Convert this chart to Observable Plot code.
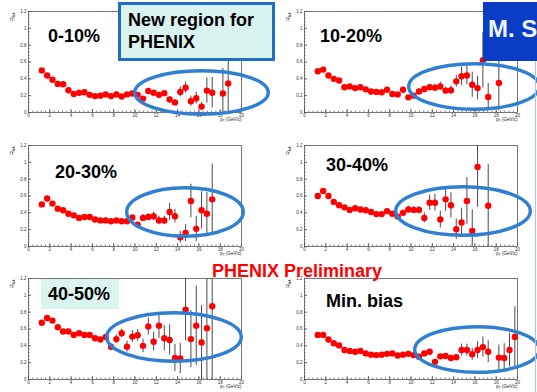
<!DOCTYPE html>
<html><head><meta charset="utf-8">
<script src="https://cdn.jsdelivr.net/npm/d3@7"></script>
<script src="https://cdn.jsdelivr.net/npm/@observablehq/plot@0.6"></script>
<style>
html,body{margin:0;padding:0;background:#fff;}
#slide{position:relative;width:537px;height:392px;overflow:hidden;background:#fff;font-family:"Liberation Sans",Arial,sans-serif;}
#slide svg{position:absolute;}
</style></head><body><div id="slide"></div>
<script>
// ---- data ----
const ptBins = [1.25,1.75,2.25,2.75,3.25,3.75,4.25,4.75,5.25,5.75,6.25,6.75,7.25,7.75,8.25,8.75,9.25,9.75,10.25,10.75,11.25,11.75,12.25,12.75,13.25,13.75,14.25,14.75,15.25,15.75,16.25,16.75,17.25,17.75,18.25,18.75,19.25,19.75];
const xTicks = [0,2,4,6,8,10,12,14,16,18,20];
const xTickLabels = ["0","2","4","6","8","10","12","14","16","18","20"];
const yTicks = [0,0.2,0.4,0.6,0.8,1,1.2];
const yTickLabels = ["0","0.2","0.4","0.6","0.8","1","1.2"];
const centralities = ["0-10%","10-20%","20-30%","30-40%","40-50%","Min. bias"];

const raa_0_10 = [0.50,0.44,0.39,0.34,0.335,0.265,0.22,0.235,0.24,0.21,0.195,0.20,0.215,0.195,0.215,0.19,0.215,0.225,0.21,0.165,0.255,0.235,0.21,0.23,0.155,0.12,0.245,0.295,0.135,0.17,0.07,0.26,0.235,null,0.225,0.345,null,null];
const err_0_10 = [0.01,0.01,0.01,0.01,0.01,0.01,0.01,0.01,0.01,0.01,0.01,0.01,0.01,0.01,0.01,0.012,0.012,0.015,0.015,0.02,0.02,0.02,0.02,0.025,0.03,0.03,0.06,0.065,0.06,0.07,0.05,0.15,0.18,null,0.3,0.9,null,null];

const raa_10_20 = [0.49,0.51,0.44,0.40,0.38,0.30,0.31,0.29,0.30,0.275,0.25,0.245,0.24,0.27,0.22,0.215,0.27,0.18,0.20,0.25,0.28,0.30,0.295,0.31,0.26,0.265,0.37,0.43,0.44,0.33,0.29,0.62,0.185,null,0.35,null,null,null];
const err_10_20 = [0.01,0.01,0.01,0.01,0.01,0.01,0.01,0.01,0.01,0.01,0.01,0.01,0.01,0.012,0.012,0.015,0.015,0.02,0.02,0.02,0.03,0.03,0.04,0.05,0.04,0.05,0.07,0.11,0.11,0.15,0.14,0.33,0.16,null,0.33,null,null,null];

const raa_20_30 = [0.50,0.57,0.51,0.45,0.43,0.39,0.37,0.34,0.35,0.35,0.32,0.31,0.31,0.30,0.31,0.30,0.30,0.345,0.26,0.34,0.35,0.36,0.31,0.31,0.41,0.36,0.11,0.16,0.54,0.21,0.43,0.39,0.56,null,null,null,null,null];
const err_20_30 = [0.01,0.01,0.01,0.01,0.01,0.01,0.01,0.01,0.01,0.01,0.01,0.01,0.01,0.012,0.012,0.015,0.015,0.02,0.03,0.04,0.04,0.05,0.05,0.05,0.1,0.08,0.07,0.1,0.2,0.15,0.22,0.25,0.42,null,null,null,null,null];

const raa_30_40 = [0.60,0.66,0.60,0.53,0.49,0.465,0.435,0.455,0.44,0.43,0.41,0.385,0.385,0.42,0.39,0.355,0.40,0.44,0.435,0.435,0.34,0.52,0.52,0.32,0.56,0.49,0.205,0.285,0.54,0.185,0.945,null,0.485,null,null,null,null,null];
const err_30_40 = [0.012,0.012,0.012,0.012,0.012,0.012,0.012,0.012,0.012,0.012,0.012,0.012,0.015,0.015,0.015,0.02,0.03,0.04,0.04,0.04,0.06,0.09,0.1,0.1,0.14,0.15,0.12,0.17,0.28,0.25,0.48,null,0.49,null,null,null,null,null];

const raa_40_50 = [0.675,0.73,0.70,0.62,0.57,0.57,0.53,0.55,0.53,0.53,0.49,0.475,0.505,0.39,0.48,0.55,0.39,0.51,0.525,0.40,0.63,0.45,0.64,0.49,0.47,0.255,0.25,0.83,0.48,0.64,0.44,0.61,0.87,null,null,null,null,null];
const err_40_50 = [0.015,0.015,0.015,0.015,0.015,0.015,0.015,0.015,0.015,0.015,0.015,0.018,0.02,0.03,0.05,0.05,0.065,0.07,0.07,0.08,0.1,0.11,0.15,0.15,0.18,0.16,0.18,0.37,0.34,0.47,0.44,0.7,0.9,null,null,null,null,null];

const raa_minbias = [0.53,0.53,0.475,0.43,0.405,0.35,0.34,0.33,0.34,0.31,0.295,0.29,0.295,0.305,0.31,0.285,0.295,0.305,0.29,0.27,0.31,0.33,0.21,0.275,0.28,0.255,0.265,0.35,0.35,0.30,0.35,0.385,0.33,null,0.26,0.255,0.35,0.505];
const err_minbias = [0.006,0.006,0.006,0.006,0.006,0.006,0.006,0.006,0.006,0.006,0.006,0.006,0.008,0.008,0.008,0.01,0.01,0.01,0.012,0.015,0.015,0.015,0.02,0.025,0.03,0.03,0.03,0.07,0.07,0.07,0.1,0.12,0.13,null,0.15,0.17,0.2,0.36];

const seriesValues = [raa_0_10, raa_10_20, raa_20_30, raa_30_40, raa_40_50, raa_minbias];
const seriesErrors = [err_0_10, err_10_20, err_20_30, err_30_40, err_40_50, err_minbias];

// ---- layout ----
const frames = [{l:28,t:11},{l:304,t:11},{l:28,t:145},{l:304,t:145},{l:28,t:278},{l:304,t:278}];
const ML=22, MR=6, MT=6, MB=12, PW=213, PH=101;
const xMinor = d3.range(0, 20.001, 0.4);
const yMinor = d3.range(0, 1.2001, 0.04);
const axisColor = "#333";

function panel(vals, errs) {
  const rows = ptBins.map((pt,i)=>({pt, v: vals[i], e: errs[i]}))
    .filter(d => d.v != null)
    .map(d => ({pt: d.pt, v: d.v, lo: Math.max(0, d.v - d.e), hi: Math.min(1.2, d.v + d.e)}));
  return Plot.plot({
    width: ML+PW+MR, height: MT+PH+MB,
    marginLeft: ML, marginRight: MR, marginTop: MT, marginBottom: MB,
    x: {domain:[0,20], label:null},
    y: {domain:[0,1.2], label:null},
    style: {fontFamily:"'Liberation Sans', Arial, sans-serif", background:"transparent", overflow:"visible", color:"#222"},
    marks: [
      Plot.axisX(xMinor, {tickSize:1.5, dy:-1.5, fill:"none", stroke:axisColor, strokeWidth:0.6, label:null}),
      Plot.axisX(xTicks, {tickSize:3, dy:-3, fill:"none", stroke:axisColor, strokeWidth:0.7, label:null}),
      Plot.axisX(xTicks, {tickSize:0, tickPadding:1.5, stroke:"none", fill:"#333", fontSize:4.5, label:null,
        tickFormat: d => xTickLabels[xTicks.indexOf(d)]}),
      Plot.axisY(yMinor, {tickSize:1.5, dx:1.5, fill:"none", stroke:axisColor, strokeWidth:0.6, label:null}),
      Plot.axisY(yTicks, {tickSize:3, dx:3, fill:"none", stroke:axisColor, strokeWidth:0.7, label:null}),
      Plot.axisY(yTicks, {tickSize:0, tickPadding:2, stroke:"none", fill:"#333", fontSize:4.5, label:null,
        tickFormat: d => yTickLabels[yTicks.indexOf(d)]}),
      Plot.frame({stroke:"#555", strokeWidth:0.8}),
      Plot.ruleX(rows, {x:"pt", y1:"lo", y2:"hi", stroke:"#4a4a4a", strokeWidth:1}),
      Plot.dot(rows, {x:"pt", y:"v", r:3.2, fill:"#ff0000", stroke:"none"}),
      Plot.text(["RAA"], {frameAnchor:"top-left", rotate:-90, textAnchor:"end", dx:-18, dy:1, fontSize:5, fill:"#222"}),
      Plot.text(["pT (GeV/c)"], {frameAnchor:"bottom-right", textAnchor:"end", dy:8.5, fontSize:4.5, fill:"#222"})
    ]
  });
}

const slide = document.getElementById("slide");
seriesValues.forEach((vals, k) => {
  const svg = panel(vals, seriesErrors[k]);
  svg.style.position = "absolute";
  svg.style.left = (frames[k].l - ML) + "px";
  svg.style.top = (frames[k].t - MT) + "px";
  svg.style.maxWidth = "none";
  d3.select(svg).selectAll("text").each(function(){
    const t = this.textContent;
    if (t === "RAA") { this.innerHTML = 'R<tspan font-size="3.5" dy="1">AA</tspan>'; }
    else if (t === "pT (GeV/c)") { this.innerHTML = 'p<tspan font-size="3.3" dy="1">T</tspan><tspan dy="-1"> (GeV/c)</tspan>'; }
  });
  slide.appendChild(svg);
});

// ---- slide annotations ----
const ov = d3.select(slide).append("svg").attr("width",537).attr("height",392)
  .style("left","0px").style("top","0px").style("pointer-events","none");

const ellipses = [
  {cx:201.5, cy:92.5, rx:66.8, ry:21.8},
  {cx:474, cy:86.5, rx:65.3, ry:22.8},
  {cx:185, cy:212, rx:58.3, ry:24.3},
  {cx:463, cy:211, rx:67.3, ry:24.3},
  {cx:174, cy:337, rx:67.3, ry:24.3},
  {cx:477, cy:349.5, rx:62.3, ry:22.8}
];
ov.selectAll("ellipse").data(ellipses).join("ellipse")
  .attr("cx",d=>d.cx).attr("cy",d=>d.cy).attr("rx",d=>d.rx).attr("ry",d=>d.ry)
  .attr("fill","none").attr("stroke","#2f7fd2").attr("stroke-width",3.4);

// right slide edge line
ov.append("line").attr("x1",535.5).attr("x2",535.5).attr("y1",61).attr("y2",392)
  .attr("stroke","#b8c4d0").attr("stroke-width",1.2);

// New region box
ov.append("rect").attr("x",119.5).attr("y",3.5).attr("width",154).attr("height",56)
  .attr("fill","#d9f4f0").attr("stroke","#1f6dc4").attr("stroke-width",3);
const bold = "'Liberation Sans', Arial, sans-serif";
function label(txt, x, y, size, fill) {
  ov.append("text").attr("x",x).attr("y",y).text(txt)
    .attr("font-family",bold).attr("font-weight","bold").attr("font-size",size).attr("fill",fill);
}
label("New region for", 128, 26, 18, "#000");
label("PHENIX", 128, 48, 18, "#000");

// M. S box
ov.append("rect").attr("x",483).attr("y",2).attr("width",60).attr("height",59).attr("fill","#0a3cc6");
label("M. S", 488, 37, 24, "#eef8ff");

// 40-50% highlight box
ov.append("rect").attr("x",41).attr("y",279).attr("width",78).attr("height",30).attr("fill","#dcf4ef");

// centrality labels
const labelPos = [{x:48,y:42},{x:320,y:42},{x:55,y:178},{x:326,y:171},{x:48,y:300},{x:326,y:307}];
centralities.forEach((c,i) => label(c, labelPos[i].x, labelPos[i].y, 18, "#000"));

label("PHENIX Preliminary", 212, 277, 18, "#ff0000");
</script>
</body></html>
